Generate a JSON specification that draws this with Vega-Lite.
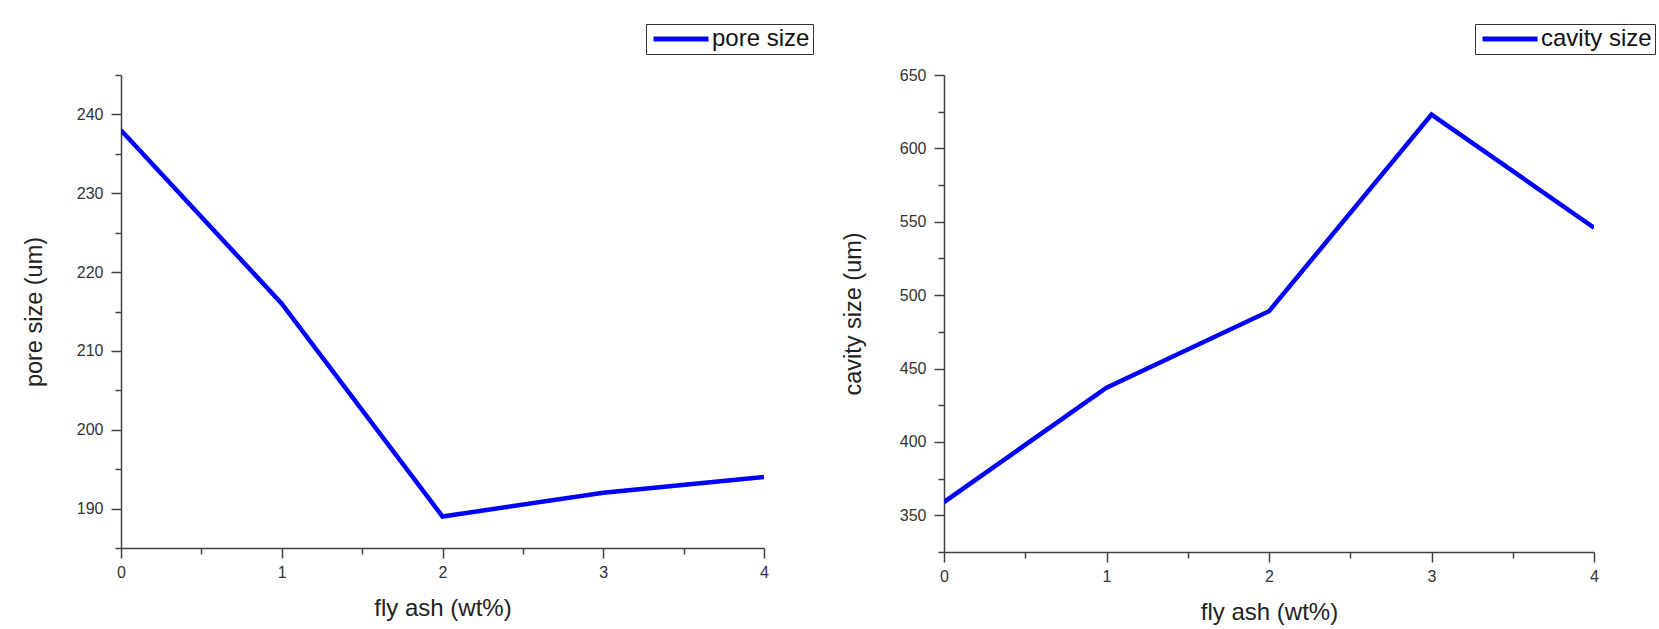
{
  "$schema": "https://vega.github.io/schema/vega-lite/v6.json",
  "padding": {"left": 22, "top": 23, "right": 4, "bottom": 4},
  "background": "white",
  "datasets": {
    "pore": [
      {"ash": 0, "value": 238, "series": "pore size"},
      {"ash": 1, "value": 216, "series": "pore size"},
      {"ash": 2, "value": 189, "series": "pore size"},
      {"ash": 3, "value": 192, "series": "pore size"},
      {"ash": 4, "value": 194, "series": "pore size"}
    ],
    "cavity": [
      {"ash": 0, "value": 359, "series": "cavity size"},
      {"ash": 1, "value": 437, "series": "cavity size"},
      {"ash": 2, "value": 489, "series": "cavity size"},
      {"ash": 3, "value": 623, "series": "cavity size"},
      {"ash": 4, "value": 546, "series": "cavity size"}
    ]
  },
  "config": {
    "view": {"stroke": null},
    "font": "Liberation Sans",
    "axis": {
      "domainColor": "#404040",
      "tickColor": "#404040",
      "domainWidth": 1.5,
      "tickWidth": 1.5,
      "labelColor": "#333333",
      "titleColor": "#222222",
      "labelFont": "Liberation Sans",
      "labelFontSize": 16,
      "titleFont": "Liberation Sans",
      "titleFontSize": 23.5,
      "titleFontWeight": "normal",
      "grid": false,
      "labelFlush": false,
      "labelOverlap": false,
      "labelBound": false
    },
    "axisX": {"titleFontSize": 24},
    "legend": {
      "strokeColor": "#333333",
      "fillColor": "white",
      "padding": 3,
      "cornerRadius": 0,
      "labelFont": "Liberation Sans",
      "labelFontSize": 24,
      "labelColor": "#111111",
      "labelOffset": 39,
      "symbolType": "M-1.36,0H8.64",
      "symbolSize": 121,
      "symbolStrokeWidth": 5
    },
    "concat": {"spacing": 27}
  },
  "resolve": {"scale": {"color": "independent"}, "legend": {"color": "independent"}},
  "hconcat": [
    {
      "width": 643,
      "height": 473,
      "data": {"name": "pore"},
      "mark": {"type": "line", "strokeWidth": 4.5, "clip": true},
      "encoding": {
        "x": {
          "field": "ash", "type": "quantitative",
          "scale": {"domain": [0, 4], "nice": false},
          "axis": {
            "title": "fly ash (wt%)",
            "values": [0, 0.5, 1, 1.5, 2, 2.5, 3, 3.5, 4],
            "labelExpr": "datum.value % 1 === 0 ? format(datum.value, 'd') : ''",
            "tickSize": {"condition": {"test": "datum.value % 1 === 0", "value": 10}, "value": 6},
            "labelPadding": 6,
            "titlePadding": 16
          }
        },
        "y": {
          "field": "value", "type": "quantitative",
          "scale": {"domain": [185, 245], "nice": false, "zero": false},
          "axis": {
            "title": "pore size (um)",
            "values": [185, 190, 195, 200, 205, 210, 215, 220, 225, 230, 235, 240, 245],
            "labelExpr": "datum.value % 10 === 0 ? datum.label : ''",
            "tickSize": {"condition": {"test": "datum.value % 10 === 0", "value": 10}, "value": 6},
            "labelPadding": 8,
            "titlePadding": 30
          }
        },
        "color": {
          "field": "series", "type": "nominal",
          "scale": {"domain": ["pore size"], "range": ["#0000ff"]},
          "legend": {"orient": "none", "legendX": 525, "legendY": -51, "title": null}
        }
      }
    },
    {
      "width": 650,
      "height": 477,
      "data": {"name": "cavity"},
      "mark": {"type": "line", "strokeWidth": 4.5, "clip": true},
      "encoding": {
        "x": {
          "field": "ash", "type": "quantitative",
          "scale": {"domain": [0, 4], "nice": false},
          "axis": {
            "title": "fly ash (wt%)",
            "values": [0, 0.5, 1, 1.5, 2, 2.5, 3, 3.5, 4],
            "labelExpr": "datum.value % 1 === 0 ? format(datum.value, 'd') : ''",
            "tickSize": {"condition": {"test": "datum.value % 1 === 0", "value": 10}, "value": 6},
            "labelPadding": 6,
            "titlePadding": 16
          }
        },
        "y": {
          "field": "value", "type": "quantitative",
          "scale": {"domain": [325, 650], "nice": false, "zero": false},
          "axis": {
            "title": "cavity size (um)",
            "values": [325, 350, 375, 400, 425, 450, 475, 500, 525, 550, 575, 600, 625, 650],
            "labelExpr": "datum.value % 50 === 0 ? datum.label : ''",
            "tickSize": {"condition": {"test": "datum.value % 50 === 0", "value": 10}, "value": 6},
            "labelPadding": 8,
            "titlePadding": 34
          }
        },
        "color": {
          "field": "series", "type": "nominal",
          "scale": {"domain": ["cavity size"], "range": ["#0000ff"]},
          "legend": {"orient": "none", "legendX": 531, "legendY": -51, "title": null}
        }
      }
    }
  ]
}
